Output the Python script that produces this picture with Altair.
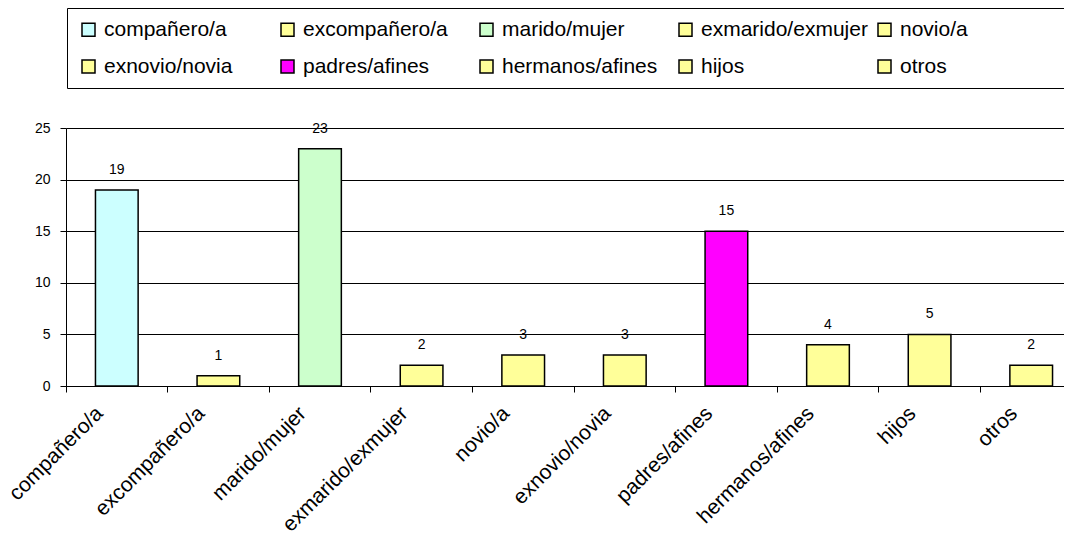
import altair as alt
import pandas as pd

categories = ["compañero/a", "excompañero/a", "marido/mujer", "exmarido/exmujer", "novio/a",
              "exnovio/novia", "padres/afines", "hermanos/afines", "hijos", "otros"]
values = [19, 1, 23, 2, 3, 3, 15, 4, 5, 2]
colors = ["#CCFFFF", "#FFFF99", "#CCFFCC", "#FFFF99", "#FFFF99",
          "#FFFF99", "#FF00FF", "#FFFF99", "#FFFF99", "#FFFF99"]
y_ticks = [0, 5, 10, 15, 20, 25]

df = pd.DataFrame({"cat": categories, "val": values})

FONT = "Liberation Sans"
W = 1016
H = 258

x_enc = alt.X(
    "cat:N", sort=categories,
    scale=alt.Scale(paddingInner=0, paddingOuter=0),
    axis=alt.Axis(
        title=None, labelAngle=-45, labelAlign="right", labelBaseline="middle",
        bandPosition=0, labelOffset=-17, tickSize=6, tickColor="black",
        domainColor="black", labelFontSize=21, labelFont=FONT, labelColor="black",
        labelPadding=18, grid=False, labelLimit=400,
    ),
)
y_enc = alt.Y(
    "val:Q",
    scale=alt.Scale(domain=[0, 25], nice=False),
    axis=alt.Axis(
        title=None, values=y_ticks, grid=True, gridColor="black", gridWidth=1,
        domainColor="black", tickColor="black", tickSize=6, labelFontSize=14,
        labelFont=FONT, labelColor="black", labelPadding=10,
    ),
)

BLANK = "\u2800" * 6
pad_expr = ("(datum.label == 'novio/a' || datum.label == 'otros') ? "
            "datum.label + '" + BLANK + "' : datum.label")

bars = alt.Chart(df).mark_bar(
    width=alt.RelativeBandSize(0.42), stroke="black", strokeWidth=1.5
).encode(
    x=x_enc,
    y=y_enc,
    color=alt.Color(
        "cat:N", sort=categories,
        scale=alt.Scale(domain=categories, range=colors),
        legend=alt.Legend(
            title=None, orient="none", legendX=1, legendY=-120, columns=5,
            direction="horizontal", symbolType="square", symbolSize=169,
            symbolStrokeColor="black", symbolStrokeWidth=1.5, symbolOpacity=1,
            labelFontSize=21, labelFont=FONT, labelColor="black", labelOffset=5,
            columnPadding=6, rowPadding=15, padding=11, strokeColor="black",
            fillColor="white", gridAlign="all", labelLimit=400,
            labelExpr=pad_expr,
        ),
    ),
)

labels = alt.Chart(df).mark_text(
    dy=-16, baseline="alphabetic", fontSize=14, font=FONT, color="black"
).encode(x=alt.X("cat:N", sort=categories), y="val:Q", text="val:Q")

chart = alt.layer(bars, labels).properties(
    width=W, height=H,
    autosize=alt.AutoSizeParams(type="none"),
    padding={"left": 58, "top": 120, "right": -18, "bottom": 147},
).configure_view(strokeWidth=0)

chart.save("out.html", embed_options={"renderer": "svg", "actions": False})
